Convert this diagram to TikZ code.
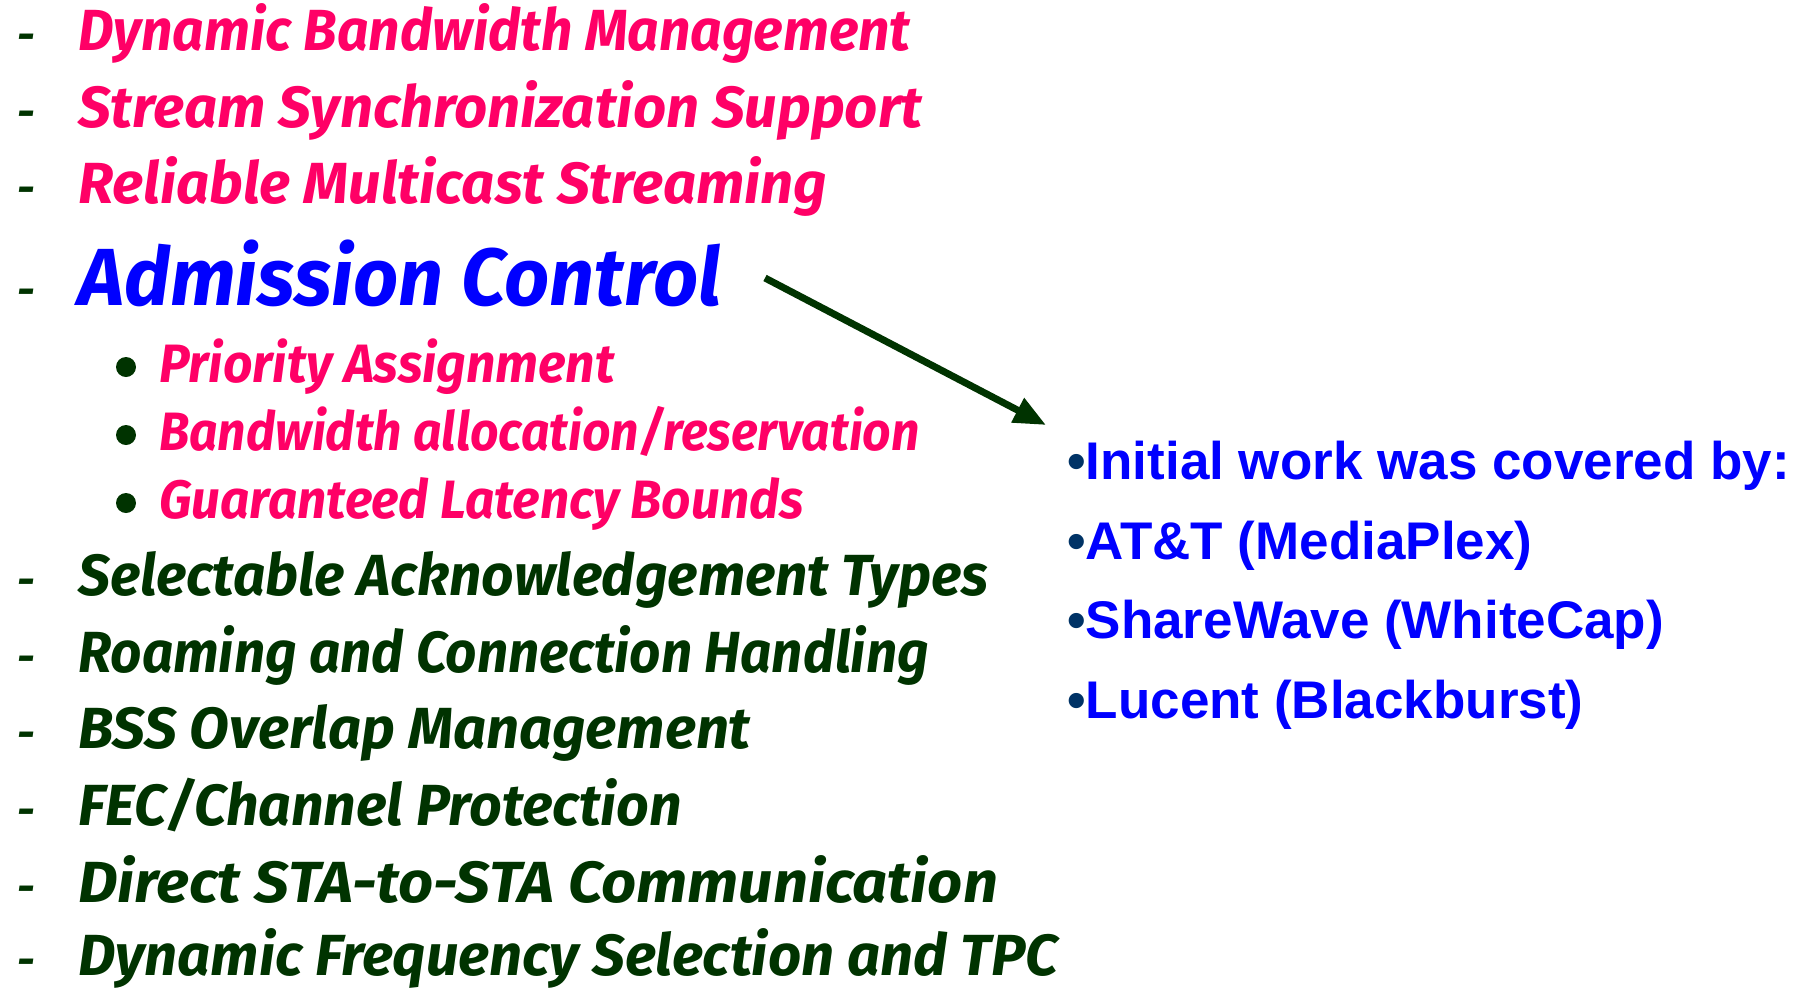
\documentclass[tikz,border=0pt]{standalone}
\usepackage{fontspec}
\usepackage{xcolor}
\usetikzlibrary{arrows.meta,positioning}
\newfontfamily\listfont{Fira Sans}
\newfontfamily\vendfont{Liberation Sans}
\definecolor{featpink} {RGB}{255,  0,102}
\definecolor{featgreen}{RGB}{  0, 51,  0}
\definecolor{featblue} {RGB}{  0,  0,255}
\definecolor{dotnavy}  {RGB}{  0, 51,102}
\tikzset{
  itm/.style  ={anchor=base west,inner sep=0pt,
                 font=\listfont\bfseries\itshape\fontsize{58}{60}\selectfont},
  itmp/.style ={itm,text=featpink},
  itmg/.style ={itm,text=featgreen},
  sub/.style  ={itmp,font=\listfont\bfseries\itshape\fontsize{54}{56}\selectfont},
  big/.style  ={itm,text=featblue,
                 font=\listfont\bfseries\itshape\fontsize{81}{84}\selectfont},
  sdot/.style ={circle,fill=featgreen,minimum size=20pt,inner sep=0pt},
  ven/.style  ={anchor=base west,inner sep=0pt,text=featblue,
                 font=\vendfont\bfseries\fontsize{53}{55}\selectfont},
  sig/.style  ={-{Triangle[length=32pt,width=26pt]},line width=7pt,draw=featgreen},
}
\newcommand{\dsh}{\makebox[61pt][l]{\color{featgreen}\fontsize{44}{46}\selectfont-}}
\newcommand{\hsq}[2]{\scalebox{#1}[1]{#2}}
\newcommand{\vbul}{{\color{dotnavy}•}}

\begin{document}
\begin{tikzpicture}[x=1pt,y=-1pt]
  \useasboundingbox (0,0) rectangle (1805,989);
  % features, upper part
  \node[itmp] (dbm)   at (17,50)  {\dsh\hsq{0.95}{Dynamic Bandwidth Management}};
  \node[itmp] (ssync) at (17,127) {\dsh Stream Synchronization Support};
  \node[itmp] (rms)   at (17,203) {\dsh Reliable Multicast Streaming};
  \node[big]  (adm)   at (17,305) {\dsh\hsq{0.974}{Admission Control}};
  % admission control sub-items
  \node[sub]  (prio)  at (159,382) {\hsq{0.954}{Priority Assignment}};
  \node[sub]  (bwres) at (159,450) {\hsq{0.922}{Bandwidth allocation/reservation}};
  \node[sub]  (lat)   at (159,518) {\hsq{0.949}{Guaranteed Latency Bounds}};
  \node[sdot] (prio-d)  at (126,367) {};
  \node[sdot] (bwres-d) at (126,435) {};
  \node[sdot] (lat-d)   at (126,503) {};
  % features, lower part
  \node[itmg] (ackt)  at (17,595) {\dsh\hsq{0.978}{Selectable Acknowledgement Types}};
  \node[itmg] (roam)  at (17,672) {\dsh\hsq{0.944}{Roaming and Connection Handling}};
  \node[itmg] (bss)   at (17,748) {\dsh BSS Overlap Management};
  \node[itmg] (fec)   at (17,825) {\dsh\hsq{0.985}{FEC/Channel Protection}};
  \node[itmg] (dls)   at (17,902) {\dsh\hsq{1.058}{Direct STA-to-STA Communication}};
  \node[itmg] (dfs)   at (17,975) {\dsh Dynamic Frequency Selection and TPC};
  % prior work
  \node[ven]  (init)   at (1067,479) {\vbul Initial work was covered by:};
  \node[ven]  (att)    at (1067,559) {\vbul AT\&T (MediaPlex)};
  \node[ven]  (swave)  at (1067,638) {\vbul ShareWave (WhiteCap)};
  \node[ven]  (lucent) at (1067,718) {\vbul Lucent (Blackburst)};
  % admission control -> prior work
  \coordinate (arrs) at (765,278);
  \coordinate (arre) at (1046,425);
  \draw[sig] (arrs) -- (arre);
\end{tikzpicture}
\end{document}
